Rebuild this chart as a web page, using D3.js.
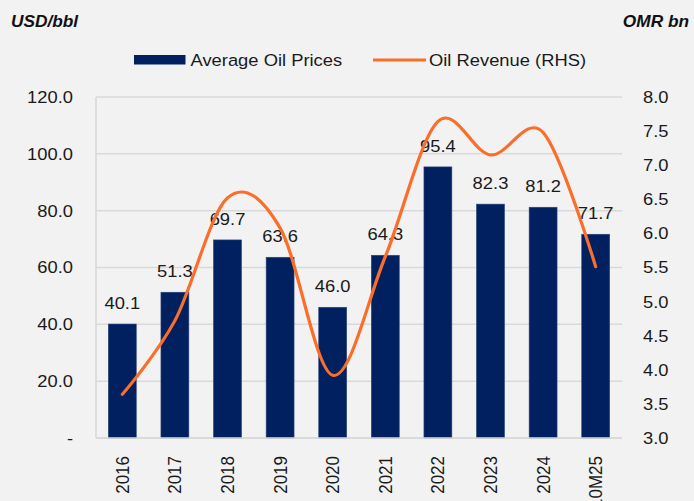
<!DOCTYPE html>
<html>
<head>
<meta charset="utf-8">
<script src="https://cdn.jsdelivr.net/npm/d3@7"></script>
<style>
  html, body { margin: 0; padding: 0; background: #f2f2f2; }
  svg { display: block; font-family: "Liberation Sans", Arial, sans-serif; }
</style>
</head>
<body>
<svg id="chart"></svg>
<script>
const years = ["2016", "2017", "2018", "2019", "2020", "2021", "2022", "2023", "2024", "10M25"];
const oilPrices = [40.1, 51.3, 69.7, 63.6, 46.0, 64.3, 95.4, 82.3, 81.2, 71.7];
const oilRevenue = [3.64, 4.72, 6.52, 6.08, 3.92, 5.66, 7.64, 7.15, 7.48, 5.51];
const leftTicks = [0, 20, 40, 60, 80, 100, 120];
const rightTicks = [3.0, 3.5, 4.0, 4.5, 5.0, 5.5, 6.0, 6.5, 7.0, 7.5, 8.0];

const W = 694, H = 501;
const K = 1.08;               // the picture is a bit wider than tall text would give
const X = (v) => v / K;       // page px -> viewBox x
const NAVY = "#002060", ORANGE = "#fa6e2a", GRID = "#d9d9d9";

const svg = d3.select("#chart")
  .attr("width", W).attr("height", H)
  .attr("viewBox", `0 0 ${W / K} ${H}`)
  .attr("preserveAspectRatio", "none");

const plot = { left: 96, right: 622, top: 97, bottom: 438 };

const x = d3.scaleBand().domain(years)
  .range([X(plot.left), X(plot.right)])
  .paddingInner(0.47).paddingOuter(0.235);
const yL = d3.scaleLinear().domain([0, 120]).range([plot.bottom, plot.top]);
const yR = d3.scaleLinear().domain([3, 8]).range([plot.bottom, plot.top]);

// grid
svg.append("g").selectAll("line").data(leftTicks).enter().append("line")
  .attr("x1", X(plot.left)).attr("x2", X(plot.right))
  .attr("y1", (d) => yL(d)).attr("y2", (d) => yL(d))
  .attr("stroke", GRID).attr("stroke-width", 1.5);
svg.append("line")
  .attr("x1", X(plot.left)).attr("x2", X(plot.left))
  .attr("y1", plot.top).attr("y2", plot.bottom)
  .attr("stroke", GRID).attr("stroke-width", 1.5);

// axes
const axL = svg.append("g").attr("transform", `translate(${X(plot.left)},0)`)
  .call(d3.axisLeft(yL).tickValues(leftTicks).tickSize(0).tickPadding(X(23))
    .tickFormat((d) => (d === 0 ? "-" : d.toFixed(1))));
const axR = svg.append("g").attr("transform", `translate(${X(plot.right)},0)`)
  .call(d3.axisRight(yR).tickValues(rightTicks).tickSize(0).tickPadding(X(21))
    .tickFormat((d) => d.toFixed(1)));
[axL, axR].forEach((g) => {
  g.select(".domain").remove();
  g.selectAll("text").attr("font-size", 17).attr("fill", "#1a1a1a")
    .attr("font-family", '"Liberation Sans", Arial, sans-serif');
});

const axB = svg.append("g").attr("transform", `translate(0,${plot.bottom})`)
  .call(d3.axisBottom(x).tickSize(0).tickPadding(0));
axB.select(".domain").remove();
axB.selectAll("text")
  .attr("font-size", 17).attr("fill", "#1a1a1a")
  .attr("font-family", '"Liberation Sans", Arial, sans-serif')
  .attr("text-anchor", "end")
  .attr("transform", "translate(0,18) rotate(-90)")
  .attr("x", 0).attr("y", 0).attr("dy", "0.35em");

// bars
svg.append("g").selectAll("rect").data(oilPrices).enter().append("rect")
  .attr("x", (d, i) => x(years[i]))
  .attr("width", x.bandwidth())
  .attr("y", (d) => yL(d))
  .attr("height", (d) => yL(0) - yL(d))
  .attr("fill", NAVY)
  .attr("stroke", "#2a4479").attr("stroke-width", 0.6);

// bottom axis line
svg.append("line")
  .attr("x1", X(plot.left)).attr("x2", X(plot.right))
  .attr("y1", plot.bottom).attr("y2", plot.bottom)
  .attr("stroke", GRID).attr("stroke-width", 1.5);

// bar labels
svg.append("g").selectAll("text").data(oilPrices).enter().append("text")
  .attr("x", (d, i) => x(years[i]) + x.bandwidth() / 2)
  .attr("y", (d) => yL(d) - 15)
  .attr("text-anchor", "middle")
  .attr("font-size", 17).attr("fill", "#1a1a1a")
  .text((d) => d.toFixed(1));

// revenue line
const line = d3.line()
  .x((d, i) => x(years[i]) + x.bandwidth() / 2)
  .y((d) => yR(d))
  .curve(d3.curveCardinal.tension(0));
svg.append("path").datum(oilRevenue)
  .attr("d", line)
  .attr("fill", "none").attr("stroke", ORANGE).attr("stroke-width", 3)
  .attr("stroke-linecap", "round");

// unit titles
svg.append("text").attr("x", X(11)).attr("y", 27.5)
  .attr("font-size", 16).attr("font-weight", "bold").attr("font-style", "italic")
  .attr("fill", "#111").text("USD/bbl");
svg.append("text").attr("x", X(689)).attr("y", 27.5).attr("text-anchor", "end")
  .attr("font-size", 16).attr("font-weight", "bold").attr("font-style", "italic")
  .attr("fill", "#111").text("OMR bn");

// legend
const lg = svg.append("g");
lg.append("rect").attr("x", X(134)).attr("y", 55).attr("width", X(185.5) - X(134)).attr("height", 9.5)
  .attr("fill", NAVY);
lg.append("text").attr("x", X(190.5)).attr("y", 66).attr("font-size", 17).attr("fill", "#1a1a1a")
  .text("Average Oil Prices");
lg.append("line").attr("x1", X(373)).attr("x2", X(426)).attr("y1", 60).attr("y2", 60)
  .attr("stroke", ORANGE).attr("stroke-width", 3);
lg.append("text").attr("x", X(429)).attr("y", 66).attr("font-size", 17).attr("fill", "#1a1a1a")
  .text("Oil Revenue (RHS)");
</script>
</body>
</html>
